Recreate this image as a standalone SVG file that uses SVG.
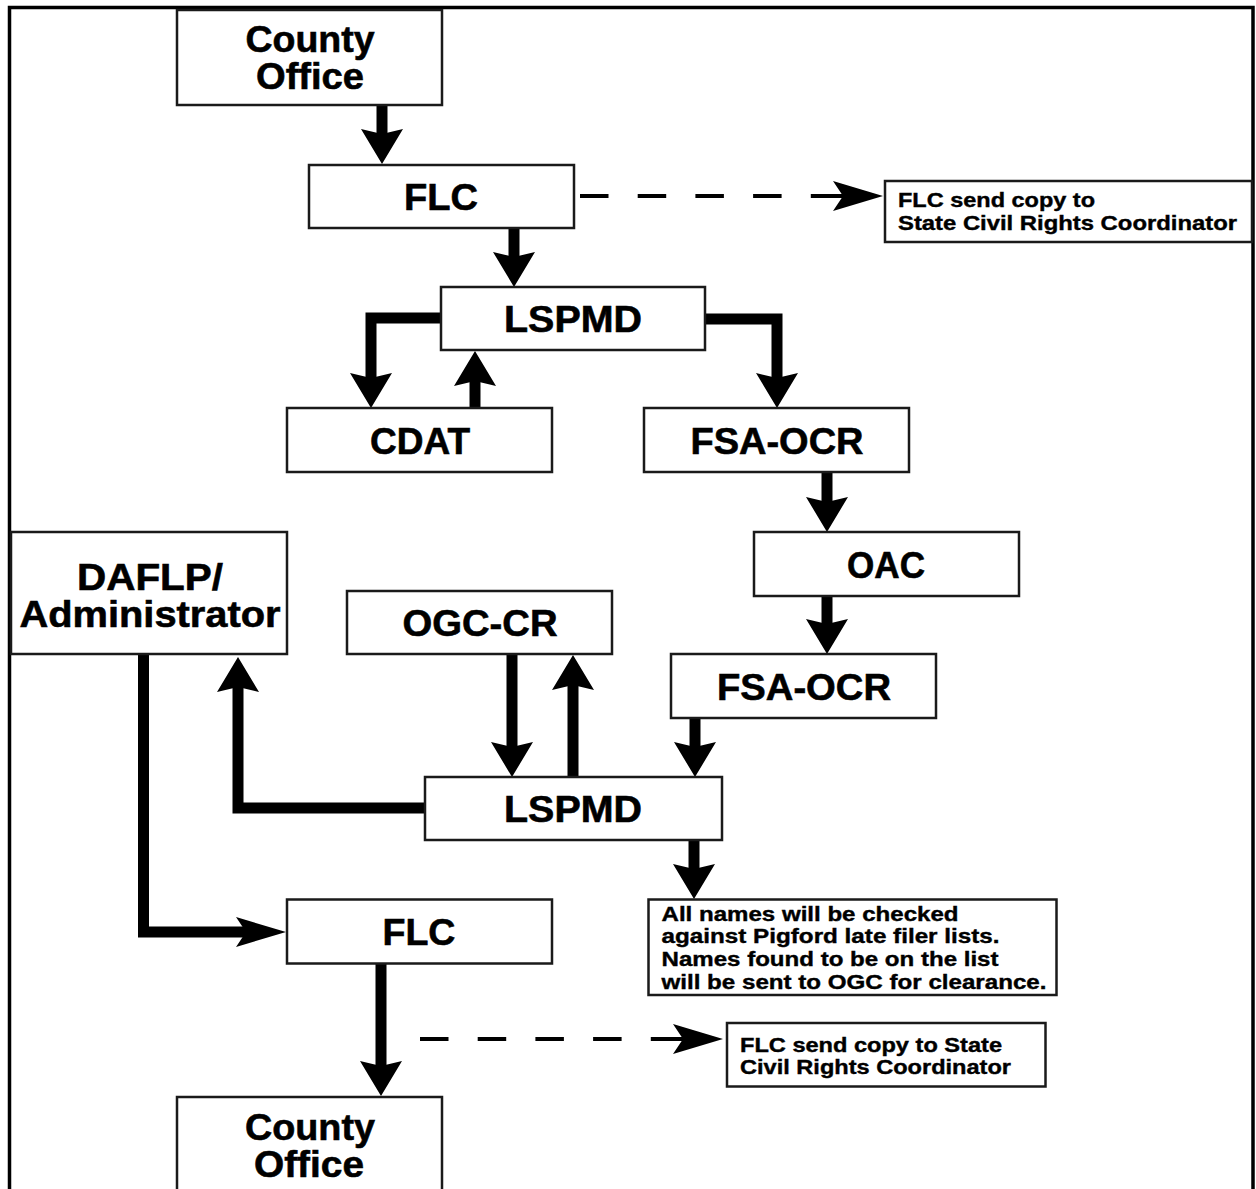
<svg xmlns="http://www.w3.org/2000/svg" width="1256" height="1189" viewBox="0 0 1256 1189">
<style>
.box{fill:#fff;stroke:#1a1a1a;stroke-width:2.5}
.lbl{font-family:"Liberation Sans",Arial,sans-serif;font-weight:bold;font-size:37px;fill:#000;stroke:#000;stroke-width:0.6;text-anchor:middle}
.note{font-family:"Liberation Sans",Arial,sans-serif;font-weight:bold;font-size:20.5px;fill:#000;stroke:#000;stroke-width:0.4}
.thick{fill:none;stroke:#000;stroke-width:11;stroke-linejoin:miter}
.dash{fill:none;stroke:#000;stroke-width:4;stroke-dasharray:28.5 29.2 28.5 29.2 28.5 29.2 28.5 29.2 36 1}
</style>
<defs>
<marker id="av" markerUnits="userSpaceOnUse" viewBox="-8 -22 38 44" refX="0" refY="0" markerWidth="38" markerHeight="44" orient="auto" overflow="visible">
<path d="M28,0 L-7,-21 L-2,0 L-7,21 Z" fill="#000"/>
</marker>
<marker id="ah" markerUnits="userSpaceOnUse" viewBox="-13 -16 52 32" refX="0" refY="0" markerWidth="52" markerHeight="32" orient="auto" overflow="visible">
<path d="M38,0 L-12,-15 L-2,0 L-12,15 Z" fill="#000"/>
</marker>
</defs>
<rect width="1256" height="1189" fill="#fff"/>
<path d="M9.5,1189 V7.5 H1253 V1189" fill="none" stroke="#000" stroke-width="3.5"/>

<g id="connectors">
<path class="thick" d="M382,105 V136" marker-end="url(#av)"/>
<path class="thick" d="M514,228 V259" marker-end="url(#av)"/>
<path class="dash" d="M580,196 H845" marker-end="url(#ah)"/>
<path class="thick" d="M441,318 H371 V380" marker-end="url(#av)"/>
<path class="thick" d="M475,408 V379" marker-end="url(#av)"/>
<path class="thick" d="M705,319 H777 V380" marker-end="url(#av)"/>
<path class="thick" d="M827,472 V504" marker-end="url(#av)"/>
<path class="thick" d="M827,596 V626" marker-end="url(#av)"/>
<path class="thick" d="M695,718 V749" marker-end="url(#av)"/>
<path class="thick" d="M512,654 V749" marker-end="url(#av)"/>
<path class="thick" d="M573,777 V683" marker-end="url(#av)"/>
<path class="thick" d="M425,808 H238 V685" marker-end="url(#av)"/>
<path class="thick" d="M143.5,654 V932 H248" marker-end="url(#ah)"/>
<path class="thick" d="M694,840 V871" marker-end="url(#av)"/>
<path class="thick" d="M381,963 V1068" marker-end="url(#av)"/>
<path class="dash" d="M420,1039 H685" marker-end="url(#ah)"/>
</g>

<g id="county-office-top">
<rect class="box" x="177" y="10" width="265" height="95"/>
<text class="lbl" x="310" y="52" textLength="129" lengthAdjust="spacingAndGlyphs">County</text>
<text class="lbl" x="310" y="89" textLength="108" lengthAdjust="spacingAndGlyphs">Office</text>
</g>
<g id="flc-top">
<rect class="box" x="309" y="165" width="265" height="63"/>
<text class="lbl" x="441" y="209.5" textLength="74" lengthAdjust="spacingAndGlyphs">FLC</text>
</g>
<g id="note-top">
<rect class="box" x="885" y="181" width="367" height="61"/>
<text class="note" x="898" y="207" textLength="197" lengthAdjust="spacingAndGlyphs">FLC send copy to</text>
<text class="note" x="898" y="230" textLength="339" lengthAdjust="spacingAndGlyphs">State Civil Rights Coordinator</text>
</g>
<g id="lspmd-top">
<rect class="box" x="441" y="287" width="264" height="63"/>
<text class="lbl" x="573" y="332" textLength="138" lengthAdjust="spacingAndGlyphs">LSPMD</text>
</g>
<g id="cdat">
<rect class="box" x="287" y="408" width="265" height="64"/>
<text class="lbl" x="420" y="453.5" textLength="100" lengthAdjust="spacingAndGlyphs">CDAT</text>
</g>
<g id="fsa-ocr-top">
<rect class="box" x="644" y="408" width="265" height="64"/>
<text class="lbl" x="777" y="453.5" textLength="173" lengthAdjust="spacingAndGlyphs">FSA-OCR</text>
</g>
<g id="oac">
<rect class="box" x="754" y="532" width="265" height="64"/>
<text class="lbl" x="886" y="577.5" textLength="78" lengthAdjust="spacingAndGlyphs">OAC</text>
</g>
<g id="daflp">
<rect class="box" x="11" y="532" width="276" height="122"/>
<text class="lbl" x="150" y="589.5" textLength="146" lengthAdjust="spacingAndGlyphs">DAFLP/</text>
<text class="lbl" x="150" y="627" textLength="261" lengthAdjust="spacingAndGlyphs">Administrator</text>
</g>
<g id="ogc-cr">
<rect class="box" x="347" y="591" width="265" height="63"/>
<text class="lbl" x="480" y="636" textLength="155" lengthAdjust="spacingAndGlyphs">OGC-CR</text>
</g>
<g id="fsa-ocr-bottom">
<rect class="box" x="671" y="654" width="265" height="64"/>
<text class="lbl" x="804" y="699.5" textLength="174" lengthAdjust="spacingAndGlyphs">FSA-OCR</text>
</g>
<g id="lspmd-bottom">
<rect class="box" x="425" y="777" width="297" height="63"/>
<text class="lbl" x="573" y="821.5" textLength="138" lengthAdjust="spacingAndGlyphs">LSPMD</text>
</g>
<g id="note-pigford">
<rect class="box" x="648.5" y="899.5" width="408" height="95.5"/>
<text class="note" x="661.5" y="920.5" textLength="297" lengthAdjust="spacingAndGlyphs">All names will be checked</text>
<text class="note" x="661.5" y="943" textLength="338" lengthAdjust="spacingAndGlyphs">against Pigford late filer lists.</text>
<text class="note" x="661.5" y="966" textLength="337" lengthAdjust="spacingAndGlyphs">Names found to be on the list</text>
<text class="note" x="661.5" y="988.5" textLength="385" lengthAdjust="spacingAndGlyphs">will be sent to OGC for clearance.</text>
</g>
<g id="flc-bottom">
<rect class="box" x="287" y="899.5" width="265" height="64"/>
<text class="lbl" x="419" y="945" textLength="73" lengthAdjust="spacingAndGlyphs">FLC</text>
</g>
<g id="note-bottom">
<rect class="box" x="727" y="1023" width="318.5" height="63.5"/>
<text class="note" x="740" y="1051.5" textLength="262" lengthAdjust="spacingAndGlyphs">FLC send copy to State</text>
<text class="note" x="740" y="1074" textLength="271" lengthAdjust="spacingAndGlyphs">Civil Rights Coordinator</text>
</g>
<g id="county-office-bottom">
<rect class="box" x="177" y="1097" width="265" height="100"/>
<text class="lbl" x="310" y="1139.5" textLength="130" lengthAdjust="spacingAndGlyphs">County</text>
<text class="lbl" x="309" y="1177" textLength="110" lengthAdjust="spacingAndGlyphs">Office</text>
</g>
</svg>
